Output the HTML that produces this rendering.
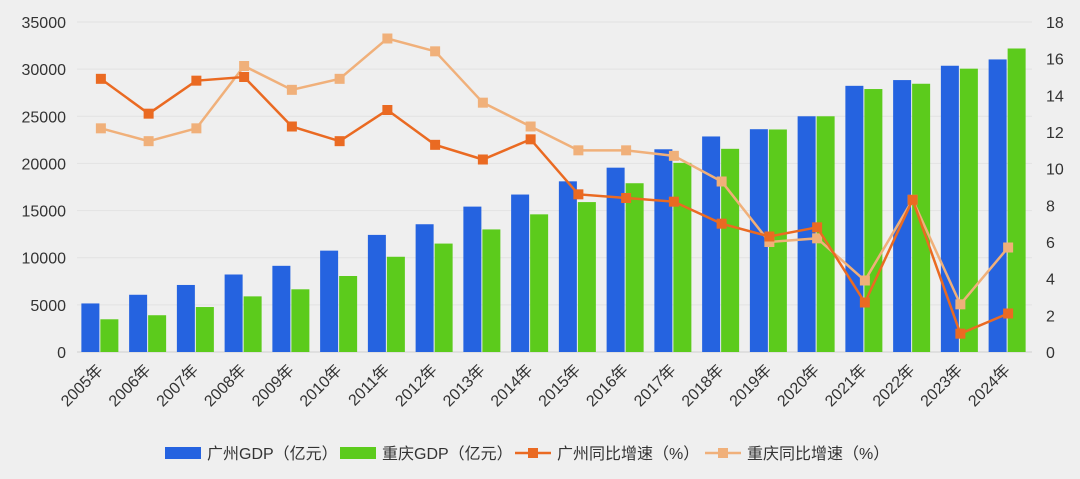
<!DOCTYPE html>
<html><head><meta charset="utf-8"><style>
body{margin:0;background:#efefef;}
svg text{font-family:"Liberation Sans","Noto Sans CJK SC",sans-serif;fill:#333;}
</style></head><body>
<svg id="c" width="1080" height="474"></svg>
<script>
const years=["2005年","2006年","2007年","2008年","2009年","2010年","2011年","2012年","2013年","2014年","2015年","2016年","2017年","2018年","2019年","2020年","2021年","2022年","2023年","2024年"];
const gzGdp=[5150,6070,7110,8220,9140,10750,12420,13550,15420,16700,18100,19550,21500,22860,23630,25000,28230,28840,30360,31030];
const cqGdp=[3470,3900,4770,5900,6650,8060,10100,11500,13000,14600,15900,17900,20060,21550,23600,25000,27890,28450,30050,32190];
const gzRate=[14.9,13.0,14.8,15.0,12.3,11.5,13.2,11.3,10.5,11.6,8.6,8.4,8.2,7.0,6.3,6.8,2.7,8.3,1.0,2.1];
const cqRate=[12.2,11.5,12.2,15.6,14.3,14.9,17.1,16.4,13.6,12.3,11.0,11.0,10.7,9.3,6.0,6.2,3.9,8.3,2.6,5.7];
const leftTicks=[0,5000,10000,15000,20000,25000,30000,35000];
const rightTicks=[0,2,4,6,8,10,12,14,16,18];
const NS="http://www.w3.org/2000/svg",svg=document.getElementById('c');
const X0=77,X1=1032,Y0=352,Y1=22,gw=(X1-X0)/years.length;
const yL=v=>Y0-(v/35000)*(Y0-Y1), yR=v=>Y0-(v/18)*(Y0-Y1), xc=i=>X0+gw*(i+0.5);
function el(t,a,p){const e=document.createElementNS(NS,t);for(const k in a)e.setAttribute(k,a[k]);(p||svg).appendChild(e);return e;}
leftTicks.forEach(v=>{
 const g=el('line',{x1:X0,x2:X1,y1:yL(v),y2:yL(v),stroke:v?'#e2e2e2':'#cfcfcf','stroke-width':1});
 
 const t=el('text',{x:66,y:yL(v)+6,'text-anchor':'end','font-size':16});t.textContent=v;
 
});
rightTicks.forEach(v=>{
 const t=el('text',{x:1046,y:yR(v)+6,'font-size':16});t.textContent=v;
 
});
years.forEach((y,i)=>{
 const b=el('rect',{x:xc(i)-19.5,y:yL(gzGdp[i]),width:18,height:Y0-yL(gzGdp[i]),fill:'#2563e0'});
 
 const g=el('rect',{x:xc(i)-0.5,y:yL(cqGdp[i]),width:18,height:Y0-yL(cqGdp[i]),fill:'#5ccb1c'});
 
 const tx=xc(i)+3,ty=371;
 const t=el('text',{x:tx,y:ty,'text-anchor':'end','font-size':16,transform:`rotate(-45 ${tx} ${ty})`});t.textContent=y;
 
});
function line(arr,col,name){
 const p=el('polyline',{points:arr.map((v,i)=>xc(i)+','+yR(v)).join(' '),fill:'none',stroke:col,'stroke-width':2.5});
 
 arr.forEach((v,i)=>{const m=el('rect',{x:xc(i)-5,y:yR(v)-5,width:10,height:10,fill:col});
 });
}
line(cqRate,'#f0b07a','chongqing-rate');
line(gzRate,'#ea6a22','guangzhou-rate');
const leg=[['广州GDP（亿元）','#2563e0',165,0],['重庆GDP（亿元）','#5ccb1c',340,0],['广州同比增速（%）','#ea6a22',515,1],['重庆同比增速（%）','#f0b07a',705,1]];
leg.forEach(([t,c,x,ln])=>{
 const g=el('g',{});
 if(ln){el('line',{x1:x,x2:x+36,y1:453,y2:453,stroke:c,'stroke-width':2.5},g);el('rect',{x:x+13,y:448,width:10,height:10,fill:c},g);}
 else el('rect',{x:x,y:447,width:36,height:12,fill:c},g);
 const tt=el('text',{x:x+42,y:459,'font-size':16},g);tt.textContent=t;
});
</script>
</body></html>
